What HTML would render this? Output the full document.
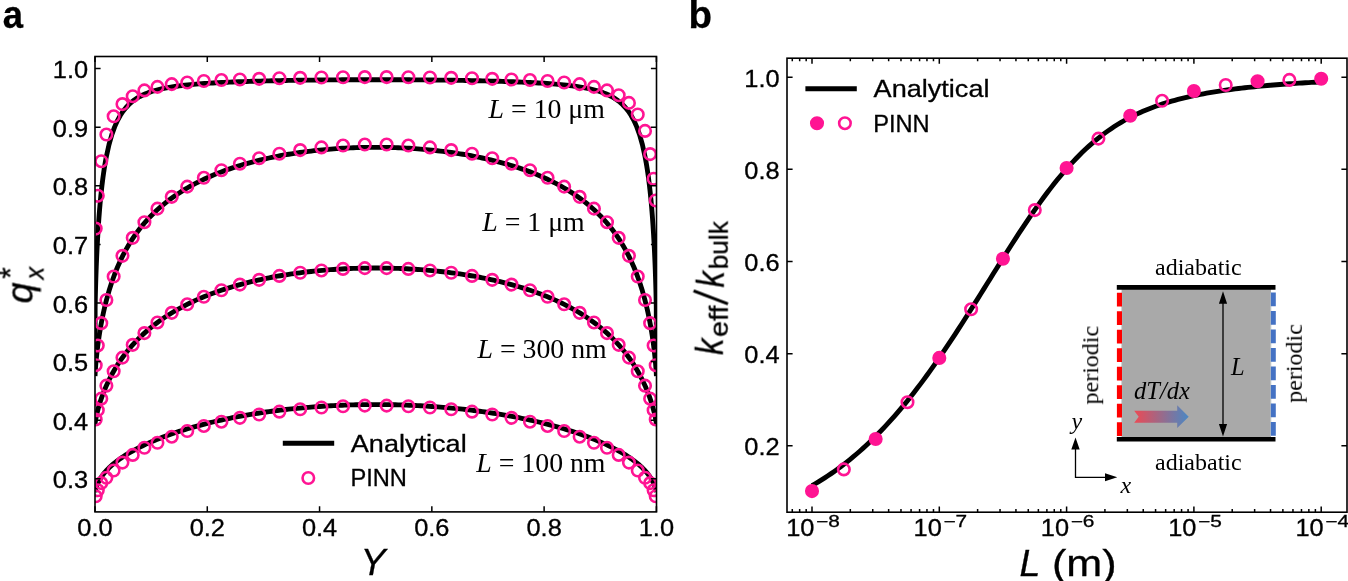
<!DOCTYPE html>
<html><head><meta charset="utf-8"><title>figure</title>
<style>html,body{margin:0;padding:0;background:#fff;}svg{display:block;font-family:"Liberation Sans",sans-serif;}text{will-change:transform;}text.s{stroke:#000;stroke-width:0.3px;}</style>
</head><body>
<svg width="1348" height="581" viewBox="0 0 1348 581">
<defs><clipPath id="ca"><rect x="95.0" y="56.5" width="561.5" height="455.4"/></clipPath>
<clipPath id="cb"><rect x="787.0" y="58.2" width="560.0" height="454.00000000000006"/></clipPath>
<linearGradient id="gr" x1="0" x2="1" y1="0" y2="0"><stop offset="0" stop-color="#ec4a55"/><stop offset="0.5" stop-color="#9a6a8a"/><stop offset="1" stop-color="#4a88c4"/></linearGradient>
</defs>
<rect width="1348" height="581" fill="#fff"/>
<g clip-path="url(#ca)" fill="none" stroke="#000" stroke-width="4.86" stroke-linejoin="round">
<polyline points="95.00,363.94 95.14,306.93 95.28,299.34 95.42,293.26 95.56,287.93 95.70,283.08 95.84,278.60 95.98,274.42 96.12,270.49 96.26,266.76 96.40,263.23 96.54,259.86 96.68,256.63 96.82,253.54 96.96,250.57 97.11,247.72 97.25,244.96 97.39,242.31 97.53,239.74 97.67,237.25 97.81,234.85 97.95,232.51 98.09,230.25 98.23,228.05 98.37,225.91 98.51,223.83 98.65,221.81 98.79,219.84 98.93,217.92 99.07,216.04 99.21,214.22 99.35,212.44 99.49,210.70 99.63,209.00 99.77,207.34 99.91,205.71 100.05,204.13 100.19,202.58 100.33,201.06 100.47,199.57 100.61,198.12 100.75,196.69 100.89,195.29 101.04,193.93 101.18,192.58 101.32,191.27 101.46,189.98 101.60,188.72 101.74,187.47 101.88,186.26 102.02,185.06 102.16,183.89 102.30,182.74 102.44,181.61 102.58,180.49 102.72,179.40 102.86,178.33 103.00,177.28 103.14,176.24 103.28,175.22 103.42,174.22 103.56,173.23 103.70,172.26 103.84,171.31 103.98,170.37 104.12,169.45 104.26,168.54 104.40,167.65 104.54,166.77 104.68,165.91 104.82,165.05 104.96,164.21 105.11,163.39 105.25,162.57 105.39,161.77 105.53,160.98 105.67,160.20 105.81,159.44 105.95,158.68 106.09,157.94 106.23,157.20 109.03,144.48 111.84,134.65 114.65,126.88 117.46,120.61 120.26,115.50 123.07,111.26 125.88,107.72 128.68,104.73 131.49,102.18 134.30,99.99 137.10,98.11 139.91,96.47 142.72,95.03 145.53,93.77 148.33,92.66 151.14,91.68 153.95,90.79 156.75,90.01 159.56,89.30 162.37,88.66 165.18,88.08 167.98,87.55 170.79,87.07 173.60,86.63 176.40,86.23 179.21,85.86 182.02,85.51 184.82,85.19 187.63,84.90 190.44,84.62 193.25,84.37 196.05,84.13 198.86,83.90 201.67,83.69 204.47,83.49 207.28,83.30 210.09,83.13 212.89,82.96 215.70,82.80 218.51,82.65 221.31,82.51 224.12,82.37 226.93,82.24 229.74,82.11 232.54,82.00 235.35,81.88 238.16,81.78 240.96,81.67 243.77,81.57 246.58,81.48 249.39,81.39 252.19,81.30 255.00,81.21 257.81,81.13 260.61,81.06 263.42,80.98 266.23,80.91 269.03,80.84 271.84,80.78 274.65,80.71 277.46,80.65 280.26,80.59 283.07,80.54 285.88,80.48 288.68,80.43 291.49,80.38 294.30,80.33 297.10,80.29 299.91,80.25 302.72,80.20 305.52,80.16 308.33,80.13 311.14,80.09 313.95,80.06 316.75,80.02 319.56,79.99 322.37,79.96 325.17,79.94 327.98,79.91 330.79,79.88 333.60,79.86 336.40,79.84 339.21,79.82 342.02,79.80 344.82,79.79 347.63,79.77 350.44,79.76 353.24,79.74 356.05,79.73 358.86,79.72 361.67,79.72 364.47,79.71 367.28,79.70 370.09,79.70 372.89,79.70 375.70,79.70 378.51,79.70 381.31,79.70 384.12,79.70 386.93,79.71 389.74,79.72 392.54,79.72 395.35,79.73 398.16,79.74 400.96,79.76 403.77,79.77 406.58,79.79 409.38,79.80 412.19,79.82 415.00,79.84 417.81,79.86 420.61,79.88 423.42,79.91 426.23,79.94 429.03,79.96 431.84,79.99 434.65,80.02 437.45,80.06 440.26,80.09 443.07,80.13 445.88,80.16 448.68,80.20 451.49,80.25 454.30,80.29 457.10,80.33 459.91,80.38 462.72,80.43 465.52,80.48 468.33,80.54 471.14,80.59 473.94,80.65 476.75,80.71 479.56,80.78 482.37,80.84 485.17,80.91 487.98,80.98 490.79,81.06 493.59,81.13 496.40,81.21 499.21,81.30 502.01,81.39 504.82,81.48 507.63,81.57 510.44,81.67 513.24,81.78 516.05,81.88 518.86,82.00 521.66,82.11 524.47,82.24 527.28,82.37 530.09,82.51 532.89,82.65 535.70,82.80 538.51,82.96 541.31,83.13 544.12,83.30 546.93,83.49 549.73,83.69 552.54,83.90 555.35,84.13 558.15,84.37 560.96,84.62 563.77,84.90 566.58,85.19 569.38,85.51 572.19,85.86 575.00,86.23 577.80,86.63 580.61,87.07 583.42,87.55 586.22,88.08 589.03,88.66 591.84,89.30 594.65,90.01 597.45,90.79 600.26,91.68 603.07,92.66 605.87,93.77 608.68,95.03 611.49,96.47 614.29,98.11 617.10,99.99 619.91,102.18 622.72,104.73 625.52,107.72 628.33,111.26 631.14,115.50 633.94,120.61 636.75,126.88 639.56,134.65 642.37,144.48 645.17,157.20 645.31,157.94 645.45,158.68 645.59,159.44 645.73,160.20 645.87,160.98 646.01,161.77 646.15,162.57 646.29,163.39 646.44,164.21 646.58,165.05 646.72,165.91 646.86,166.77 647.00,167.65 647.14,168.54 647.28,169.45 647.42,170.37 647.56,171.31 647.70,172.26 647.84,173.23 647.98,174.22 648.12,175.22 648.26,176.24 648.40,177.28 648.54,178.33 648.68,179.40 648.82,180.49 648.96,181.61 649.10,182.74 649.24,183.89 649.38,185.06 649.52,186.26 649.66,187.47 649.80,188.72 649.94,189.98 650.08,191.27 650.22,192.58 650.36,193.93 650.51,195.29 650.65,196.69 650.79,198.12 650.93,199.57 651.07,201.06 651.21,202.58 651.35,204.13 651.49,205.71 651.63,207.34 651.77,209.00 651.91,210.70 652.05,212.44 652.19,214.22 652.33,216.04 652.47,217.92 652.61,219.84 652.75,221.81 652.89,223.83 653.03,225.91 653.17,228.05 653.31,230.25 653.45,232.51 653.59,234.85 653.73,237.25 653.87,239.74 654.01,242.31 654.15,244.96 654.29,247.72 654.44,250.57 654.58,253.54 654.72,256.63 654.86,259.86 655.00,263.23 655.14,266.76 655.28,270.49 655.42,274.42 655.56,278.60 655.70,283.08 655.84,287.93 655.98,293.26 656.12,299.34 656.26,306.93 656.40,363.94"/>
<polyline points="95.00,376.04 95.14,373.12 95.28,370.86 95.42,368.84 95.56,366.97 95.70,365.22 95.84,363.56 95.98,361.98 96.12,360.46 96.26,359.00 96.40,357.59 96.54,356.23 96.68,354.90 96.82,353.61 96.96,352.36 97.11,351.14 97.25,349.94 97.39,348.77 97.53,347.63 97.67,346.52 97.81,345.42 97.95,344.35 98.09,343.30 98.23,342.26 98.37,341.25 98.51,340.25 98.65,339.27 98.79,338.30 98.93,337.35 99.07,336.42 99.21,335.50 99.35,334.59 99.49,333.70 99.63,332.82 99.77,331.95 99.91,331.09 100.05,330.25 100.19,329.41 100.33,328.59 100.47,327.77 100.61,326.97 100.75,326.18 100.89,325.40 101.04,324.62 101.18,323.86 101.32,323.10 101.46,322.35 101.60,321.61 101.74,320.88 101.88,320.16 102.02,319.44 102.16,318.74 102.30,318.04 102.44,317.34 102.58,316.66 102.72,315.98 102.86,315.31 103.00,314.64 103.14,313.98 103.28,313.33 103.42,312.68 103.56,312.04 103.70,311.41 103.84,310.78 103.98,310.16 104.12,309.54 104.26,308.93 104.40,308.32 104.54,307.72 104.68,307.12 104.82,306.53 104.96,305.95 105.11,305.37 105.25,304.79 105.39,304.22 105.53,303.65 105.67,303.09 105.81,302.53 105.95,301.98 106.09,301.43 106.23,300.89 109.03,290.82 111.84,282.03 114.65,274.24 117.46,267.25 120.26,260.92 123.07,255.15 125.88,249.85 128.68,244.96 131.49,240.42 134.30,236.20 137.10,232.25 139.91,228.54 142.72,225.06 145.53,221.77 148.33,218.66 151.14,215.72 153.95,212.93 156.75,210.27 159.56,207.75 162.37,205.33 165.18,203.03 167.98,200.83 170.79,198.72 173.60,196.70 176.40,194.77 179.21,192.91 182.02,191.12 184.82,189.40 187.63,187.74 190.44,186.15 193.25,184.62 196.05,183.13 198.86,181.71 201.67,180.33 204.47,179.00 207.28,177.71 210.09,176.47 212.89,175.27 215.70,174.11 218.51,172.99 221.31,171.90 224.12,170.85 226.93,169.83 229.74,168.85 232.54,167.90 235.35,166.98 238.16,166.09 240.96,165.22 243.77,164.39 246.58,163.58 249.39,162.80 252.19,162.04 255.00,161.31 257.81,160.60 260.61,159.92 263.42,159.26 266.23,158.62 269.03,158.00 271.84,157.40 274.65,156.83 277.46,156.27 280.26,155.73 283.07,155.22 285.88,154.72 288.68,154.24 291.49,153.78 294.30,153.34 297.10,152.91 299.91,152.50 302.72,152.11 305.52,151.74 308.33,151.38 311.14,151.04 313.95,150.71 316.75,150.40 319.56,150.11 322.37,149.83 325.17,149.57 327.98,149.32 330.79,149.09 333.60,148.87 336.40,148.67 339.21,148.48 342.02,148.30 344.82,148.14 347.63,148.00 350.44,147.87 353.24,147.75 356.05,147.64 358.86,147.55 361.67,147.48 364.47,147.42 367.28,147.37 370.09,147.33 372.89,147.31 375.70,147.31 378.51,147.31 381.31,147.33 384.12,147.37 386.93,147.42 389.74,147.48 392.54,147.55 395.35,147.64 398.16,147.75 400.96,147.87 403.77,148.00 406.58,148.14 409.38,148.30 412.19,148.48 415.00,148.67 417.81,148.87 420.61,149.09 423.42,149.32 426.23,149.57 429.03,149.83 431.84,150.11 434.65,150.40 437.45,150.71 440.26,151.04 443.07,151.38 445.88,151.74 448.68,152.11 451.49,152.50 454.30,152.91 457.10,153.34 459.91,153.78 462.72,154.24 465.52,154.72 468.33,155.22 471.14,155.73 473.94,156.27 476.75,156.83 479.56,157.40 482.37,158.00 485.17,158.62 487.98,159.26 490.79,159.92 493.59,160.60 496.40,161.31 499.21,162.04 502.01,162.80 504.82,163.58 507.63,164.39 510.44,165.22 513.24,166.09 516.05,166.98 518.86,167.90 521.66,168.85 524.47,169.83 527.28,170.85 530.09,171.90 532.89,172.99 535.70,174.11 538.51,175.27 541.31,176.47 544.12,177.71 546.93,179.00 549.73,180.33 552.54,181.71 555.35,183.13 558.15,184.62 560.96,186.15 563.77,187.74 566.58,189.40 569.38,191.12 572.19,192.91 575.00,194.77 577.80,196.70 580.61,198.72 583.42,200.83 586.22,203.03 589.03,205.33 591.84,207.75 594.65,210.27 597.45,212.93 600.26,215.72 603.07,218.66 605.87,221.77 608.68,225.06 611.49,228.54 614.29,232.25 617.10,236.20 619.91,240.42 622.72,244.96 625.52,249.85 628.33,255.15 631.14,260.92 633.94,267.25 636.75,274.24 639.56,282.03 642.37,290.82 645.17,300.89 645.31,301.43 645.45,301.98 645.59,302.53 645.73,303.09 645.87,303.65 646.01,304.22 646.15,304.79 646.29,305.37 646.44,305.95 646.58,306.53 646.72,307.12 646.86,307.72 647.00,308.32 647.14,308.93 647.28,309.54 647.42,310.16 647.56,310.78 647.70,311.41 647.84,312.04 647.98,312.68 648.12,313.33 648.26,313.98 648.40,314.64 648.54,315.31 648.68,315.98 648.82,316.66 648.96,317.34 649.10,318.04 649.24,318.74 649.38,319.44 649.52,320.16 649.66,320.88 649.80,321.61 649.94,322.35 650.08,323.10 650.22,323.86 650.36,324.62 650.51,325.40 650.65,326.18 650.79,326.97 650.93,327.77 651.07,328.59 651.21,329.41 651.35,330.25 651.49,331.09 651.63,331.95 651.77,332.82 651.91,333.70 652.05,334.59 652.19,335.50 652.33,336.42 652.47,337.35 652.61,338.30 652.75,339.27 652.89,340.25 653.03,341.25 653.17,342.26 653.31,343.30 653.45,344.35 653.59,345.42 653.73,346.52 653.87,347.63 654.01,348.77 654.15,349.94 654.29,351.14 654.44,352.36 654.58,353.61 654.72,354.90 654.86,356.23 655.00,357.59 655.14,359.00 655.28,360.46 655.42,361.98 655.56,363.56 655.70,365.22 655.84,366.97 655.98,368.84 656.12,370.86 656.26,373.12 656.40,376.04"/>
<polyline points="95.00,424.14 95.14,422.90 95.28,421.94 95.42,421.06 95.56,420.24 95.70,419.45 95.84,418.70 95.98,417.98 96.12,417.28 96.26,416.60 96.40,415.94 96.54,415.30 96.68,414.67 96.82,414.05 96.96,413.45 97.11,412.86 97.25,412.28 97.39,411.72 97.53,411.16 97.67,410.61 97.81,410.07 97.95,409.53 98.09,409.01 98.23,408.49 98.37,407.98 98.51,407.48 98.65,406.98 98.79,406.49 98.93,406.01 99.07,405.53 99.21,405.05 99.35,404.59 99.49,404.12 99.63,403.66 99.77,403.21 99.91,402.76 100.05,402.32 100.19,401.88 100.33,401.44 100.47,401.01 100.61,400.59 100.75,400.16 100.89,399.75 101.04,399.33 101.18,398.92 101.32,398.51 101.46,398.11 101.60,397.70 101.74,397.31 101.88,396.91 102.02,396.52 102.16,396.13 102.30,395.75 102.44,395.37 102.58,394.99 102.72,394.61 102.86,394.24 103.00,393.87 103.14,393.50 103.28,393.13 103.42,392.77 103.56,392.41 103.70,392.05 103.84,391.70 103.98,391.34 104.12,390.99 104.26,390.64 104.40,390.30 104.54,389.95 104.68,389.61 104.82,389.27 104.96,388.94 105.11,388.60 105.25,388.27 105.39,387.94 105.53,387.61 105.67,387.28 105.81,386.96 105.95,386.63 106.09,386.31 106.23,385.99 109.03,379.97 111.84,374.53 114.65,369.55 117.46,364.96 120.26,360.71 123.07,356.74 125.88,353.02 128.68,349.52 131.49,346.22 134.30,343.10 137.10,340.14 139.91,337.33 142.72,334.65 145.53,332.10 148.33,329.66 151.14,327.33 153.95,325.09 156.75,322.95 159.56,320.90 162.37,318.92 165.18,317.03 167.98,315.20 170.79,313.44 173.60,311.75 176.40,310.11 179.21,308.54 182.02,307.02 184.82,305.55 187.63,304.13 190.44,302.75 193.25,301.43 196.05,300.14 198.86,298.90 201.67,297.70 204.47,296.53 207.28,295.41 210.09,294.31 212.89,293.26 215.70,292.23 218.51,291.24 221.31,290.28 224.12,289.34 226.93,288.44 229.74,287.56 232.54,286.71 235.35,285.89 238.16,285.09 240.96,284.32 243.77,283.57 246.58,282.84 249.39,282.14 252.19,281.45 255.00,280.79 257.81,280.15 260.61,279.54 263.42,278.94 266.23,278.36 269.03,277.80 271.84,277.26 274.65,276.73 277.46,276.23 280.26,275.74 283.07,275.27 285.88,274.82 288.68,274.38 291.49,273.96 294.30,273.56 297.10,273.17 299.91,272.80 302.72,272.44 305.52,272.10 308.33,271.77 311.14,271.46 313.95,271.16 316.75,270.88 319.56,270.61 322.37,270.35 325.17,270.11 327.98,269.88 330.79,269.67 333.60,269.47 336.40,269.28 339.21,269.11 342.02,268.95 344.82,268.80 347.63,268.67 350.44,268.55 353.24,268.44 356.05,268.34 358.86,268.26 361.67,268.19 364.47,268.14 367.28,268.09 370.09,268.06 372.89,268.04 375.70,268.03 378.51,268.04 381.31,268.06 384.12,268.09 386.93,268.14 389.74,268.19 392.54,268.26 395.35,268.34 398.16,268.44 400.96,268.55 403.77,268.67 406.58,268.80 409.38,268.95 412.19,269.11 415.00,269.28 417.81,269.47 420.61,269.67 423.42,269.88 426.23,270.11 429.03,270.35 431.84,270.61 434.65,270.88 437.45,271.16 440.26,271.46 443.07,271.77 445.88,272.10 448.68,272.44 451.49,272.80 454.30,273.17 457.10,273.56 459.91,273.96 462.72,274.38 465.52,274.82 468.33,275.27 471.14,275.74 473.94,276.23 476.75,276.73 479.56,277.26 482.37,277.80 485.17,278.36 487.98,278.94 490.79,279.54 493.59,280.15 496.40,280.79 499.21,281.45 502.01,282.14 504.82,282.84 507.63,283.57 510.44,284.32 513.24,285.09 516.05,285.89 518.86,286.71 521.66,287.56 524.47,288.44 527.28,289.34 530.09,290.28 532.89,291.24 535.70,292.23 538.51,293.26 541.31,294.31 544.12,295.41 546.93,296.53 549.73,297.70 552.54,298.90 555.35,300.14 558.15,301.43 560.96,302.75 563.77,304.13 566.58,305.55 569.38,307.02 572.19,308.54 575.00,310.11 577.80,311.75 580.61,313.44 583.42,315.20 586.22,317.03 589.03,318.92 591.84,320.90 594.65,322.95 597.45,325.09 600.26,327.33 603.07,329.66 605.87,332.10 608.68,334.65 611.49,337.33 614.29,340.14 617.10,343.10 619.91,346.22 622.72,349.52 625.52,353.02 628.33,356.74 631.14,360.71 633.94,364.96 636.75,369.55 639.56,374.53 642.37,379.97 645.17,385.99 645.31,386.31 645.45,386.63 645.59,386.96 645.73,387.28 645.87,387.61 646.01,387.94 646.15,388.27 646.29,388.60 646.44,388.94 646.58,389.27 646.72,389.61 646.86,389.95 647.00,390.30 647.14,390.64 647.28,390.99 647.42,391.34 647.56,391.70 647.70,392.05 647.84,392.41 647.98,392.77 648.12,393.13 648.26,393.50 648.40,393.87 648.54,394.24 648.68,394.61 648.82,394.99 648.96,395.37 649.10,395.75 649.24,396.13 649.38,396.52 649.52,396.91 649.66,397.31 649.80,397.70 649.94,398.11 650.08,398.51 650.22,398.92 650.36,399.33 650.51,399.75 650.65,400.16 650.79,400.59 650.93,401.01 651.07,401.44 651.21,401.88 651.35,402.32 651.49,402.76 651.63,403.21 651.77,403.66 651.91,404.12 652.05,404.59 652.19,405.05 652.33,405.53 652.47,406.01 652.61,406.49 652.75,406.98 652.89,407.48 653.03,407.98 653.17,408.49 653.31,409.01 653.45,409.53 653.59,410.07 653.73,410.61 653.87,411.16 654.01,411.72 654.15,412.28 654.29,412.86 654.44,413.45 654.58,414.05 654.72,414.67 654.86,415.30 655.00,415.94 655.14,416.60 655.28,417.28 655.42,417.98 655.56,418.70 655.70,419.45 655.84,420.24 655.98,421.06 656.12,421.94 656.26,422.90 656.40,424.14"/>
<polyline points="95.00,492.13 95.14,491.22 95.28,490.57 95.42,489.98 95.56,489.43 95.70,488.93 95.84,488.45 95.98,487.99 96.12,487.56 96.26,487.14 96.40,486.73 96.54,486.35 96.68,485.97 96.82,485.60 96.96,485.25 97.11,484.90 97.25,484.56 97.39,484.23 97.53,483.91 97.67,483.60 97.81,483.29 97.95,482.99 98.09,482.69 98.23,482.40 98.37,482.12 98.51,481.84 98.65,481.56 98.79,481.29 98.93,481.03 99.07,480.76 99.21,480.51 99.35,480.25 99.49,480.00 99.63,479.76 99.77,479.51 99.91,479.28 100.05,479.04 100.19,478.81 100.33,478.58 100.47,478.35 100.61,478.12 100.75,477.90 100.89,477.68 101.04,477.47 101.18,477.25 101.32,477.04 101.46,476.83 101.60,476.62 101.74,476.42 101.88,476.22 102.02,476.02 102.16,475.82 102.30,475.62 102.44,475.43 102.58,475.23 102.72,475.04 102.86,474.85 103.00,474.66 103.14,474.48 103.28,474.29 103.42,474.11 103.56,473.93 103.70,473.75 103.84,473.57 103.98,473.40 104.12,473.22 104.26,473.05 104.40,472.88 104.54,472.71 104.68,472.54 104.82,472.37 104.96,472.20 105.11,472.04 105.25,471.87 105.39,471.71 105.53,471.55 105.67,471.39 105.81,471.23 105.95,471.07 106.09,470.91 106.23,470.76 109.03,467.83 111.84,465.22 114.65,462.85 117.46,460.66 120.26,458.63 123.07,456.72 125.88,454.92 128.68,453.21 131.49,451.58 134.30,450.03 137.10,448.54 139.91,447.11 142.72,445.74 145.53,444.41 148.33,443.13 151.14,441.89 153.95,440.70 156.75,439.54 159.56,438.41 162.37,437.32 165.18,436.26 167.98,435.23 170.79,434.23 173.60,433.25 176.40,432.30 179.21,431.38 182.02,430.48 184.82,429.61 187.63,428.76 190.44,427.93 193.25,427.12 196.05,426.33 198.86,425.56 201.67,424.81 204.47,424.08 207.28,423.37 210.09,422.68 212.89,422.00 215.70,421.34 218.51,420.70 221.31,420.07 224.12,419.46 226.93,418.87 229.74,418.29 232.54,417.72 235.35,417.17 238.16,416.63 240.96,416.11 243.77,415.61 246.58,415.11 249.39,414.63 252.19,414.16 255.00,413.71 257.81,413.27 260.61,412.84 263.42,412.42 266.23,412.01 269.03,411.62 271.84,411.24 274.65,410.87 277.46,410.51 280.26,410.17 283.07,409.83 285.88,409.51 288.68,409.20 291.49,408.90 294.30,408.60 297.10,408.32 299.91,408.06 302.72,407.80 305.52,407.55 308.33,407.31 311.14,407.08 313.95,406.87 316.75,406.66 319.56,406.46 322.37,406.27 325.17,406.10 327.98,405.93 330.79,405.77 333.60,405.63 336.40,405.49 339.21,405.36 342.02,405.24 344.82,405.13 347.63,405.03 350.44,404.94 353.24,404.86 356.05,404.79 358.86,404.73 361.67,404.68 364.47,404.64 367.28,404.60 370.09,404.58 372.89,404.57 375.70,404.56 378.51,404.57 381.31,404.58 384.12,404.60 386.93,404.64 389.74,404.68 392.54,404.73 395.35,404.79 398.16,404.86 400.96,404.94 403.77,405.03 406.58,405.13 409.38,405.24 412.19,405.36 415.00,405.49 417.81,405.63 420.61,405.77 423.42,405.93 426.23,406.10 429.03,406.27 431.84,406.46 434.65,406.66 437.45,406.87 440.26,407.08 443.07,407.31 445.88,407.55 448.68,407.80 451.49,408.06 454.30,408.32 457.10,408.60 459.91,408.90 462.72,409.20 465.52,409.51 468.33,409.83 471.14,410.17 473.94,410.51 476.75,410.87 479.56,411.24 482.37,411.62 485.17,412.01 487.98,412.42 490.79,412.84 493.59,413.27 496.40,413.71 499.21,414.16 502.01,414.63 504.82,415.11 507.63,415.61 510.44,416.11 513.24,416.63 516.05,417.17 518.86,417.72 521.66,418.29 524.47,418.87 527.28,419.46 530.09,420.07 532.89,420.70 535.70,421.34 538.51,422.00 541.31,422.68 544.12,423.37 546.93,424.08 549.73,424.81 552.54,425.56 555.35,426.33 558.15,427.12 560.96,427.93 563.77,428.76 566.58,429.61 569.38,430.48 572.19,431.38 575.00,432.30 577.80,433.25 580.61,434.23 583.42,435.23 586.22,436.26 589.03,437.32 591.84,438.41 594.65,439.54 597.45,440.70 600.26,441.89 603.07,443.13 605.87,444.41 608.68,445.74 611.49,447.11 614.29,448.54 617.10,450.03 619.91,451.58 622.72,453.21 625.52,454.92 628.33,456.72 631.14,458.63 633.94,460.66 636.75,462.85 639.56,465.22 642.37,467.83 645.17,470.76 645.31,470.91 645.45,471.07 645.59,471.23 645.73,471.39 645.87,471.55 646.01,471.71 646.15,471.87 646.29,472.04 646.44,472.20 646.58,472.37 646.72,472.54 646.86,472.71 647.00,472.88 647.14,473.05 647.28,473.22 647.42,473.40 647.56,473.57 647.70,473.75 647.84,473.93 647.98,474.11 648.12,474.29 648.26,474.48 648.40,474.66 648.54,474.85 648.68,475.04 648.82,475.23 648.96,475.43 649.10,475.62 649.24,475.82 649.38,476.02 649.52,476.22 649.66,476.42 649.80,476.62 649.94,476.83 650.08,477.04 650.22,477.25 650.36,477.47 650.51,477.68 650.65,477.90 650.79,478.12 650.93,478.35 651.07,478.58 651.21,478.81 651.35,479.04 651.49,479.28 651.63,479.51 651.77,479.76 651.91,480.00 652.05,480.25 652.19,480.51 652.33,480.76 652.47,481.03 652.61,481.29 652.75,481.56 652.89,481.84 653.03,482.12 653.17,482.40 653.31,482.69 653.45,482.99 653.59,483.29 653.73,483.60 653.87,483.91 654.01,484.23 654.15,484.56 654.29,484.90 654.44,485.25 654.58,485.60 654.72,485.97 654.86,486.35 655.00,486.73 655.14,487.14 655.28,487.56 655.42,487.99 655.56,488.45 655.70,488.93 655.84,489.43 655.98,489.98 656.12,490.57 656.26,491.22 656.40,492.13"/>
</g>
<g clip-path="url(#ca)" fill="none" stroke="#ff1493" stroke-width="2.6">
<circle cx="95.70" cy="228.58" r="5.75"/>
<circle cx="97.79" cy="195.76" r="5.75"/>
<circle cx="101.27" cy="161.19" r="5.75"/>
<circle cx="106.38" cy="134.53" r="5.75"/>
<circle cx="113.65" cy="116.30" r="5.75"/>
<circle cx="122.45" cy="104.11" r="5.75"/>
<circle cx="132.72" cy="96.20" r="5.75"/>
<circle cx="144.41" cy="90.40" r="5.75"/>
<circle cx="157.44" cy="86.88" r="5.75"/>
<circle cx="171.75" cy="84.13" r="5.75"/>
<circle cx="187.24" cy="82.49" r="5.75"/>
<circle cx="203.83" cy="81.02" r="5.75"/>
<circle cx="221.42" cy="80.03" r="5.75"/>
<circle cx="239.90" cy="79.50" r="5.75"/>
<circle cx="259.17" cy="78.85" r="5.75"/>
<circle cx="279.38" cy="78.27" r="5.75"/>
<circle cx="300.19" cy="77.86" r="5.75"/>
<circle cx="321.45" cy="77.51" r="5.75"/>
<circle cx="343.02" cy="77.27" r="5.75"/>
<circle cx="364.79" cy="77.10" r="5.75"/>
<circle cx="386.61" cy="77.10" r="5.75"/>
<circle cx="408.38" cy="77.27" r="5.75"/>
<circle cx="429.95" cy="77.51" r="5.75"/>
<circle cx="451.21" cy="77.86" r="5.75"/>
<circle cx="472.02" cy="78.27" r="5.75"/>
<circle cx="492.23" cy="78.85" r="5.75"/>
<circle cx="511.50" cy="79.50" r="5.75"/>
<circle cx="529.98" cy="80.03" r="5.75"/>
<circle cx="547.57" cy="81.02" r="5.75"/>
<circle cx="564.16" cy="82.49" r="5.75"/>
<circle cx="579.65" cy="84.13" r="5.75"/>
<circle cx="593.96" cy="86.88" r="5.75"/>
<circle cx="606.99" cy="90.40" r="5.75"/>
<circle cx="618.68" cy="95.20" r="5.75"/>
<circle cx="628.95" cy="102.88" r="5.75"/>
<circle cx="637.75" cy="114.48" r="5.75"/>
<circle cx="645.02" cy="130.89" r="5.75"/>
<circle cx="650.13" cy="154.10" r="5.75"/>
<circle cx="653.61" cy="178.77" r="5.75"/>
<circle cx="655.70" cy="200.45" r="5.75"/>
<circle cx="95.70" cy="365.21" r="5.75"/>
<circle cx="97.79" cy="345.43" r="5.75"/>
<circle cx="101.27" cy="323.17" r="5.75"/>
<circle cx="106.38" cy="300.02" r="5.75"/>
<circle cx="113.65" cy="276.57" r="5.75"/>
<circle cx="122.45" cy="255.86" r="5.75"/>
<circle cx="132.72" cy="237.86" r="5.75"/>
<circle cx="144.41" cy="222.21" r="5.75"/>
<circle cx="157.44" cy="208.63" r="5.75"/>
<circle cx="171.75" cy="196.85" r="5.75"/>
<circle cx="187.24" cy="186.63" r="5.75"/>
<circle cx="203.83" cy="177.79" r="5.75"/>
<circle cx="221.42" cy="170.19" r="5.75"/>
<circle cx="239.90" cy="163.71" r="5.75"/>
<circle cx="259.17" cy="158.26" r="5.75"/>
<circle cx="279.38" cy="153.72" r="5.75"/>
<circle cx="300.19" cy="150.11" r="5.75"/>
<circle cx="321.45" cy="147.40" r="5.75"/>
<circle cx="343.02" cy="145.56" r="5.75"/>
<circle cx="364.79" cy="144.56" r="5.75"/>
<circle cx="386.61" cy="144.56" r="5.75"/>
<circle cx="408.38" cy="145.56" r="5.75"/>
<circle cx="429.95" cy="147.40" r="5.75"/>
<circle cx="451.21" cy="150.11" r="5.75"/>
<circle cx="472.02" cy="153.72" r="5.75"/>
<circle cx="492.23" cy="158.26" r="5.75"/>
<circle cx="511.50" cy="163.71" r="5.75"/>
<circle cx="529.98" cy="170.19" r="5.75"/>
<circle cx="547.57" cy="177.79" r="5.75"/>
<circle cx="564.16" cy="186.63" r="5.75"/>
<circle cx="579.65" cy="196.85" r="5.75"/>
<circle cx="593.96" cy="208.63" r="5.75"/>
<circle cx="606.99" cy="222.21" r="5.75"/>
<circle cx="618.68" cy="237.86" r="5.75"/>
<circle cx="628.95" cy="255.86" r="5.75"/>
<circle cx="637.75" cy="276.57" r="5.75"/>
<circle cx="645.02" cy="300.02" r="5.75"/>
<circle cx="650.13" cy="323.17" r="5.75"/>
<circle cx="653.61" cy="345.43" r="5.75"/>
<circle cx="655.70" cy="365.21" r="5.75"/>
<circle cx="95.70" cy="419.47" r="5.75"/>
<circle cx="97.79" cy="410.13" r="5.75"/>
<circle cx="101.27" cy="398.66" r="5.75"/>
<circle cx="106.38" cy="385.66" r="5.75"/>
<circle cx="113.65" cy="371.32" r="5.75"/>
<circle cx="122.45" cy="357.62" r="5.75"/>
<circle cx="132.72" cy="344.85" r="5.75"/>
<circle cx="144.41" cy="333.11" r="5.75"/>
<circle cx="157.44" cy="322.45" r="5.75"/>
<circle cx="171.75" cy="312.86" r="5.75"/>
<circle cx="187.24" cy="304.32" r="5.75"/>
<circle cx="203.83" cy="296.80" r="5.75"/>
<circle cx="221.42" cy="290.24" r="5.75"/>
<circle cx="239.90" cy="284.61" r="5.75"/>
<circle cx="259.17" cy="279.85" r="5.75"/>
<circle cx="279.38" cy="275.89" r="5.75"/>
<circle cx="300.19" cy="272.76" r="5.75"/>
<circle cx="321.45" cy="270.44" r="5.75"/>
<circle cx="343.02" cy="268.90" r="5.75"/>
<circle cx="364.79" cy="268.13" r="5.75"/>
<circle cx="386.61" cy="268.13" r="5.75"/>
<circle cx="408.38" cy="268.90" r="5.75"/>
<circle cx="429.95" cy="270.44" r="5.75"/>
<circle cx="451.21" cy="272.76" r="5.75"/>
<circle cx="472.02" cy="275.89" r="5.75"/>
<circle cx="492.23" cy="279.85" r="5.75"/>
<circle cx="511.50" cy="284.61" r="5.75"/>
<circle cx="529.98" cy="290.24" r="5.75"/>
<circle cx="547.57" cy="296.80" r="5.75"/>
<circle cx="564.16" cy="304.32" r="5.75"/>
<circle cx="579.65" cy="312.86" r="5.75"/>
<circle cx="593.96" cy="322.45" r="5.75"/>
<circle cx="606.99" cy="333.11" r="5.75"/>
<circle cx="618.68" cy="344.85" r="5.75"/>
<circle cx="628.95" cy="357.62" r="5.75"/>
<circle cx="637.75" cy="371.32" r="5.75"/>
<circle cx="645.02" cy="385.66" r="5.75"/>
<circle cx="650.13" cy="398.66" r="5.75"/>
<circle cx="653.61" cy="410.13" r="5.75"/>
<circle cx="655.70" cy="419.47" r="5.75"/>
<circle cx="95.70" cy="496.24" r="5.75"/>
<circle cx="97.79" cy="490.27" r="5.75"/>
<circle cx="101.27" cy="483.10" r="5.75"/>
<circle cx="106.38" cy="477.73" r="5.75"/>
<circle cx="113.65" cy="470.53" r="5.75"/>
<circle cx="122.45" cy="462.58" r="5.75"/>
<circle cx="132.72" cy="454.89" r="5.75"/>
<circle cx="144.41" cy="447.77" r="5.75"/>
<circle cx="157.44" cy="442.79" r="5.75"/>
<circle cx="171.75" cy="436.72" r="5.75"/>
<circle cx="187.24" cy="431.05" r="5.75"/>
<circle cx="203.83" cy="425.96" r="5.75"/>
<circle cx="221.42" cy="421.69" r="5.75"/>
<circle cx="239.90" cy="417.86" r="5.75"/>
<circle cx="259.17" cy="414.52" r="5.75"/>
<circle cx="279.38" cy="411.65" r="5.75"/>
<circle cx="300.19" cy="409.31" r="5.75"/>
<circle cx="321.45" cy="407.52" r="5.75"/>
<circle cx="343.02" cy="406.29" r="5.75"/>
<circle cx="364.79" cy="405.62" r="5.75"/>
<circle cx="386.61" cy="405.62" r="5.75"/>
<circle cx="408.38" cy="406.29" r="5.75"/>
<circle cx="429.95" cy="407.52" r="5.75"/>
<circle cx="451.21" cy="409.31" r="5.75"/>
<circle cx="472.02" cy="411.65" r="5.75"/>
<circle cx="492.23" cy="414.52" r="5.75"/>
<circle cx="511.50" cy="417.86" r="5.75"/>
<circle cx="529.98" cy="421.69" r="5.75"/>
<circle cx="547.57" cy="425.96" r="5.75"/>
<circle cx="564.16" cy="431.05" r="5.75"/>
<circle cx="579.65" cy="436.72" r="5.75"/>
<circle cx="593.96" cy="442.79" r="5.75"/>
<circle cx="606.99" cy="447.77" r="5.75"/>
<circle cx="618.68" cy="454.89" r="5.75"/>
<circle cx="628.95" cy="462.58" r="5.75"/>
<circle cx="637.75" cy="470.53" r="5.75"/>
<circle cx="645.02" cy="477.73" r="5.75"/>
<circle cx="650.13" cy="483.10" r="5.75"/>
<circle cx="653.61" cy="490.27" r="5.75"/>
<circle cx="655.70" cy="496.24" r="5.75"/>
</g>
<rect x="95.0" y="56.5" width="561.5" height="455.4" fill="none" stroke="#000" stroke-width="1.6"/>
<g stroke="#000" stroke-width="1.5" fill="none">
<path d="M95.00 511.90v-5.60M95.00 56.50v5.60"/>
<path d="M207.28 511.90v-5.60M207.28 56.50v5.60"/>
<path d="M319.56 511.90v-5.60M319.56 56.50v5.60"/>
<path d="M431.84 511.90v-5.60M431.84 56.50v5.60"/>
<path d="M544.12 511.90v-5.60M544.12 56.50v5.60"/>
<path d="M656.40 511.90v-5.60M656.40 56.50v5.60"/>
<path d="M95.00 478.80h5.60M656.50 478.80h-5.60"/>
<path d="M95.00 420.20h5.60M656.50 420.20h-5.60"/>
<path d="M95.00 361.60h5.60M656.50 361.60h-5.60"/>
<path d="M95.00 303.00h5.60M656.50 303.00h-5.60"/>
<path d="M95.00 244.40h5.60M656.50 244.40h-5.60"/>
<path d="M95.00 185.80h5.60M656.50 185.80h-5.60"/>
<path d="M95.00 127.20h5.60M656.50 127.20h-5.60"/>
<path d="M95.00 68.60h5.60M656.50 68.60h-5.60"/>
</g>
<text x="95" y="536" font-size="23.2" text-anchor="middle" textLength="35.31" lengthAdjust="spacingAndGlyphs" class="s">0.0</text>
<text x="207.28" y="536" font-size="23.2" text-anchor="middle" textLength="35.31" lengthAdjust="spacingAndGlyphs" class="s">0.2</text>
<text x="319.56" y="536" font-size="23.2" text-anchor="middle" textLength="35.31" lengthAdjust="spacingAndGlyphs" class="s">0.4</text>
<text x="431.84" y="536" font-size="23.2" text-anchor="middle" textLength="35.31" lengthAdjust="spacingAndGlyphs" class="s">0.6</text>
<text x="544.12" y="536" font-size="23.2" text-anchor="middle" textLength="35.31" lengthAdjust="spacingAndGlyphs" class="s">0.8</text>
<text x="656.4" y="536" font-size="23.2" text-anchor="middle" textLength="35.31" lengthAdjust="spacingAndGlyphs" class="s">1.0</text>
<text x="88.2" y="488.4" font-size="23.2" text-anchor="end" textLength="35.31" lengthAdjust="spacingAndGlyphs" class="s">0.3</text>
<text x="88.2" y="429.8" font-size="23.2" text-anchor="end" textLength="35.31" lengthAdjust="spacingAndGlyphs" class="s">0.4</text>
<text x="88.2" y="371.2" font-size="23.2" text-anchor="end" textLength="35.31" lengthAdjust="spacingAndGlyphs" class="s">0.5</text>
<text x="88.2" y="312.6" font-size="23.2" text-anchor="end" textLength="35.31" lengthAdjust="spacingAndGlyphs" class="s">0.6</text>
<text x="88.2" y="254" font-size="23.2" text-anchor="end" textLength="35.31" lengthAdjust="spacingAndGlyphs" class="s">0.7</text>
<text x="88.2" y="195.4" font-size="23.2" text-anchor="end" textLength="35.31" lengthAdjust="spacingAndGlyphs" class="s">0.8</text>
<text x="88.2" y="136.8" font-size="23.2" text-anchor="end" textLength="35.31" lengthAdjust="spacingAndGlyphs" class="s">0.9</text>
<text x="88.2" y="78.2" font-size="23.2" text-anchor="end" textLength="35.31" lengthAdjust="spacingAndGlyphs" class="s">1.0</text>
<polyline clip-path="url(#cb)" points="812.00,485.58 815.18,483.74 818.37,481.84 821.55,479.88 824.73,477.85 827.91,475.77 831.10,473.62 834.28,471.41 837.46,469.13 840.64,466.79 843.83,464.37 847.01,461.89 850.19,459.34 853.37,456.72 856.55,454.02 859.74,451.25 862.92,448.41 866.10,445.49 869.28,442.50 872.47,439.44 875.65,436.30 878.83,433.08 882.01,429.78 885.20,426.41 888.38,422.97 891.56,419.44 894.75,415.84 897.93,412.17 901.11,408.42 904.29,404.59 907.48,400.69 910.66,396.71 913.84,392.66 917.02,388.54 920.20,384.35 923.39,380.09 926.57,375.76 929.75,371.37 932.94,366.91 936.12,362.38 939.30,357.80 942.48,353.16 945.66,348.46 948.85,343.71 952.03,338.91 955.21,334.06 958.39,329.17 961.58,324.23 964.76,319.26 967.94,314.26 971.12,309.23 974.31,304.17 977.49,299.09 980.67,294.00 983.86,288.89 987.04,283.78 990.22,278.67 993.40,273.55 996.59,268.45 999.77,263.36 1002.95,258.29 1006.13,253.25 1009.31,248.23 1012.50,243.25 1015.68,238.32 1018.86,233.42 1022.05,228.58 1025.23,223.80 1028.41,219.08 1031.59,214.42 1034.78,209.84 1037.96,205.33 1041.14,200.90 1044.32,196.56 1047.50,192.30 1050.69,188.14 1053.87,184.07 1057.05,180.10 1060.24,176.23 1063.42,172.46 1066.60,168.80 1069.78,165.24 1072.97,161.79 1076.15,158.45 1079.33,155.21 1082.51,152.09 1085.70,149.07 1088.88,146.16 1092.06,143.35 1095.24,140.65 1098.42,138.06 1101.61,135.56 1104.79,133.17 1107.97,130.87 1111.15,128.67 1114.34,126.56 1117.52,124.54 1120.70,122.61 1123.88,120.77 1127.07,119.00 1130.25,117.32 1133.43,115.71 1136.62,114.17 1139.80,112.70 1142.98,111.30 1146.16,109.96 1149.35,108.68 1152.53,107.46 1155.71,106.29 1158.89,105.18 1162.08,104.11 1165.26,103.10 1168.44,102.12 1171.62,101.19 1174.80,100.30 1177.99,99.45 1181.17,98.64 1184.35,97.85 1187.54,97.11 1190.72,96.39 1193.90,95.70 1197.08,95.04 1200.27,94.41 1203.45,93.80 1206.63,93.22 1209.81,92.65 1213.00,92.12 1216.18,91.60 1219.36,91.10 1222.54,90.62 1225.72,90.16 1228.91,89.72 1232.09,89.29 1235.27,88.88 1238.45,88.49 1241.64,88.11 1244.82,87.74 1248.00,87.39 1251.18,87.05 1254.37,86.72 1257.55,86.41 1260.73,86.10 1263.91,85.81 1267.10,85.52 1270.28,85.25 1273.46,84.99 1276.64,84.73 1279.83,84.48 1283.01,84.24 1286.19,84.01 1289.38,83.79 1292.56,83.57 1295.74,83.36 1298.92,83.15 1302.11,82.95 1305.29,82.76 1308.47,82.57 1311.65,82.39 1314.84,82.21 1318.02,82.04 1321.20,81.87" fill="none" stroke="#000" stroke-width="4.86" stroke-linejoin="round" stroke-linecap="butt"/>
<g clip-path="url(#cb)">
<circle cx="812.00" cy="491.09" r="5.75" fill="#ff1493" stroke="#ff1493" stroke-width="2.6"/>
<circle cx="843.83" cy="469.39" r="5.75" fill="none" stroke="#ff1493" stroke-width="2.6"/>
<circle cx="875.65" cy="438.98" r="5.75" fill="#ff1493" stroke="#ff1493" stroke-width="2.6"/>
<circle cx="907.48" cy="402.21" r="5.75" fill="none" stroke="#ff1493" stroke-width="2.6"/>
<circle cx="939.30" cy="357.89" r="5.75" fill="#ff1493" stroke="#ff1493" stroke-width="2.6"/>
<circle cx="971.12" cy="309.28" r="5.75" fill="none" stroke="#ff1493" stroke-width="2.6"/>
<circle cx="1002.95" cy="258.78" r="5.75" fill="#ff1493" stroke="#ff1493" stroke-width="2.6"/>
<circle cx="1034.78" cy="210.08" r="5.75" fill="none" stroke="#ff1493" stroke-width="2.6"/>
<circle cx="1066.60" cy="168.01" r="5.75" fill="#ff1493" stroke="#ff1493" stroke-width="2.6"/>
<circle cx="1098.42" cy="138.62" r="5.75" fill="none" stroke="#ff1493" stroke-width="2.6"/>
<circle cx="1130.25" cy="115.81" r="5.75" fill="#ff1493" stroke="#ff1493" stroke-width="2.6"/>
<circle cx="1162.08" cy="100.79" r="5.75" fill="none" stroke="#ff1493" stroke-width="2.6"/>
<circle cx="1193.90" cy="91.02" r="5.75" fill="#ff1493" stroke="#ff1493" stroke-width="2.6"/>
<circle cx="1225.72" cy="84.99" r="5.75" fill="none" stroke="#ff1493" stroke-width="2.6"/>
<circle cx="1257.55" cy="81.20" r="5.75" fill="#ff1493" stroke="#ff1493" stroke-width="2.6"/>
<circle cx="1289.38" cy="79.90" r="5.75" fill="none" stroke="#ff1493" stroke-width="2.6"/>
<circle cx="1321.20" cy="78.80" r="5.75" fill="#ff1493" stroke="#ff1493" stroke-width="2.6"/>
</g>
<rect x="787.0" y="58.2" width="560.0" height="454.00000000000006" fill="none" stroke="#000" stroke-width="1.6"/>
<g stroke="#000" stroke-width="1.5" fill="none">
<path d="M792.28 512.20v-3.10M792.28 58.20v3.10"/>
<path d="M799.66 512.20v-3.10M799.66 58.20v3.10"/>
<path d="M806.18 512.20v-3.10M806.18 58.20v3.10"/>
<path d="M812.00 512.20v-5.60M812.00 58.20v5.60"/>
<path d="M850.32 512.20v-3.10M850.32 58.20v3.10"/>
<path d="M872.74 512.20v-3.10M872.74 58.20v3.10"/>
<path d="M888.64 512.20v-3.10M888.64 58.20v3.10"/>
<path d="M900.98 512.20v-3.10M900.98 58.20v3.10"/>
<path d="M911.06 512.20v-3.10M911.06 58.20v3.10"/>
<path d="M919.58 512.20v-3.10M919.58 58.20v3.10"/>
<path d="M926.96 512.20v-3.10M926.96 58.20v3.10"/>
<path d="M933.48 512.20v-3.10M933.48 58.20v3.10"/>
<path d="M939.30 512.20v-5.60M939.30 58.20v5.60"/>
<path d="M977.62 512.20v-3.10M977.62 58.20v3.10"/>
<path d="M1000.04 512.20v-3.10M1000.04 58.20v3.10"/>
<path d="M1015.94 512.20v-3.10M1015.94 58.20v3.10"/>
<path d="M1028.28 512.20v-3.10M1028.28 58.20v3.10"/>
<path d="M1038.36 512.20v-3.10M1038.36 58.20v3.10"/>
<path d="M1046.88 512.20v-3.10M1046.88 58.20v3.10"/>
<path d="M1054.26 512.20v-3.10M1054.26 58.20v3.10"/>
<path d="M1060.78 512.20v-3.10M1060.78 58.20v3.10"/>
<path d="M1066.60 512.20v-5.60M1066.60 58.20v5.60"/>
<path d="M1104.92 512.20v-3.10M1104.92 58.20v3.10"/>
<path d="M1127.34 512.20v-3.10M1127.34 58.20v3.10"/>
<path d="M1143.24 512.20v-3.10M1143.24 58.20v3.10"/>
<path d="M1155.58 512.20v-3.10M1155.58 58.20v3.10"/>
<path d="M1165.66 512.20v-3.10M1165.66 58.20v3.10"/>
<path d="M1174.18 512.20v-3.10M1174.18 58.20v3.10"/>
<path d="M1181.56 512.20v-3.10M1181.56 58.20v3.10"/>
<path d="M1188.08 512.20v-3.10M1188.08 58.20v3.10"/>
<path d="M1193.90 512.20v-5.60M1193.90 58.20v5.60"/>
<path d="M1232.22 512.20v-3.10M1232.22 58.20v3.10"/>
<path d="M1254.64 512.20v-3.10M1254.64 58.20v3.10"/>
<path d="M1270.54 512.20v-3.10M1270.54 58.20v3.10"/>
<path d="M1282.88 512.20v-3.10M1282.88 58.20v3.10"/>
<path d="M1292.96 512.20v-3.10M1292.96 58.20v3.10"/>
<path d="M1301.48 512.20v-3.10M1301.48 58.20v3.10"/>
<path d="M1308.86 512.20v-3.10M1308.86 58.20v3.10"/>
<path d="M1315.38 512.20v-3.10M1315.38 58.20v3.10"/>
<path d="M1321.20 512.20v-5.60M1321.20 58.20v5.60"/>
<path d="M787.00 445.80h5.60M1347.00 445.80h-5.60"/>
<path d="M787.00 353.65h5.60M1347.00 353.65h-5.60"/>
<path d="M787.00 261.50h5.60M1347.00 261.50h-5.60"/>
<path d="M787.00 169.35h5.60M1347.00 169.35h-5.60"/>
<path d="M787.00 77.20h5.60M1347.00 77.20h-5.60"/>
</g>
<text x="779.6" y="455.2" font-size="23.2" text-anchor="end" textLength="35.31" lengthAdjust="spacingAndGlyphs" class="s">0.2</text>
<text x="779.6" y="363.05" font-size="23.2" text-anchor="end" textLength="35.31" lengthAdjust="spacingAndGlyphs" class="s">0.4</text>
<text x="779.6" y="270.9" font-size="23.2" text-anchor="end" textLength="35.31" lengthAdjust="spacingAndGlyphs" class="s">0.6</text>
<text x="779.6" y="178.75" font-size="23.2" text-anchor="end" textLength="35.31" lengthAdjust="spacingAndGlyphs" class="s">0.8</text>
<text x="779.6" y="86.6" font-size="23.2" text-anchor="end" textLength="35.31" lengthAdjust="spacingAndGlyphs" class="s">1.0</text>
<text x="786.25" y="536" font-size="23.2" textLength="28.25" lengthAdjust="spacingAndGlyphs" class="s">10</text>
<text x="816.1" y="527" font-size="16.2" textLength="23.76" lengthAdjust="spacingAndGlyphs" class="s">−8</text>
<text x="913.55" y="536" font-size="23.2" textLength="28.25" lengthAdjust="spacingAndGlyphs" class="s">10</text>
<text x="943.4" y="527" font-size="16.2" textLength="23.76" lengthAdjust="spacingAndGlyphs" class="s">−7</text>
<text x="1040.85" y="536" font-size="23.2" textLength="28.25" lengthAdjust="spacingAndGlyphs" class="s">10</text>
<text x="1070.7" y="527" font-size="16.2" textLength="23.76" lengthAdjust="spacingAndGlyphs" class="s">−6</text>
<text x="1168.15" y="536" font-size="23.2" textLength="28.25" lengthAdjust="spacingAndGlyphs" class="s">10</text>
<text x="1198" y="527" font-size="16.2" textLength="23.76" lengthAdjust="spacingAndGlyphs" class="s">−5</text>
<text x="1295.45" y="536" font-size="23.2" textLength="28.25" lengthAdjust="spacingAndGlyphs" class="s">10</text>
<text x="1325.3" y="527" font-size="16.2" textLength="23.76" lengthAdjust="spacingAndGlyphs" class="s">−4</text>
<text x="373" y="575" font-size="37.5" text-anchor="middle" font-style="italic" class="s">Y</text>
<text class="s" x="1019.5" y="575.5" font-size="37.5" font-style="italic">L</text>
<text class="s" x="1051.9" y="575.5" font-size="37.5" textLength="64.6" lengthAdjust="spacingAndGlyphs">(m)</text>
<g transform="translate(32.5,303.5) rotate(-90)">
<text class="s" x="-0.14" y="0.25" font-size="37.27" font-style="italic" textLength="20.98" lengthAdjust="spacingAndGlyphs">q</text>
<text class="s" x="23.90" y="10.70" font-size="26.33" font-style="italic" textLength="12.54" lengthAdjust="spacingAndGlyphs">x</text>
<text class="s" x="24.73" y="-10.54" font-size="31.34" textLength="11.52" lengthAdjust="spacingAndGlyphs">*</text>
</g>
<g transform="translate(723.7,355.5) rotate(-90)">
<text class="s" x="0.57" y="-0.70" font-size="38.76" font-style="italic" textLength="16.44" lengthAdjust="spacingAndGlyphs">k</text>
<text class="s" x="18.60" y="4.04" font-size="26.43" textLength="31.34" lengthAdjust="spacingAndGlyphs">eff</text>
<path d="M51.6 4.3L64.7 -30.1" stroke="#000" stroke-width="3.0"/>
<text class="s" x="68.08" y="-0.40" font-size="38.76" font-style="italic" textLength="16.25" lengthAdjust="spacingAndGlyphs">k</text>
<text class="s" x="86.22" y="3.95" font-size="25.17" textLength="48.04" lengthAdjust="spacingAndGlyphs">bulk</text>
</g>
<text x="2.8" y="27.6" font-size="38.5" font-weight="bold" textLength="20.3" lengthAdjust="spacingAndGlyphs" class="s">a</text>
<text x="688.6" y="27.6" font-size="38.5" font-weight="bold" class="s">b</text>
<path d="M282.8 443.2H334.2" stroke="#000" stroke-width="4.86"/>
<text x="350.8" y="451.6" font-size="24.4" textLength="115.89" lengthAdjust="spacingAndGlyphs" class="s">Analytical</text>
<text x="350.4" y="485.9" font-size="24.4" textLength="56.5" lengthAdjust="spacingAndGlyphs" class="s">PINN</text>
<path d="M805.4 88.8H856.8" stroke="#000" stroke-width="4.86"/>
<text x="873.6" y="97.1" font-size="24.4" textLength="115.89" lengthAdjust="spacingAndGlyphs" class="s">Analytical</text>
<text x="873.2" y="131.6" font-size="24.4" textLength="56.5" lengthAdjust="spacingAndGlyphs" class="s">PINN</text>
<circle cx="308.3" cy="478.0" r="5.75" fill="none" stroke="#ff1493" stroke-width="2.6"/>
<circle cx="817.0" cy="123.2" r="5.75" fill="#ff1493" stroke="#ff1493" stroke-width="2.6"/>
<circle cx="844.9" cy="123.2" r="5.75" fill="none" stroke="#ff1493" stroke-width="2.6"/>
<text x="488.6" y="118.2" font-size="27.8" font-family="Liberation Serif"><tspan font-style="italic">L</tspan></text>
<text x="511.01" y="118.2" font-size="27.8" font-family="Liberation Serif">= 10 μm</text>
<text x="482.3" y="231.1" font-size="27.8" font-family="Liberation Serif"><tspan font-style="italic">L</tspan></text>
<text x="504.71" y="231.1" font-size="27.8" font-family="Liberation Serif">= 1 μm</text>
<text x="477.5" y="358.1" font-size="27.8" font-family="Liberation Serif"><tspan font-style="italic">L</tspan></text>
<text x="499.91" y="358.1" font-size="27.8" font-family="Liberation Serif">= 300 nm</text>
<text x="476.3" y="471.7" font-size="27.8" font-family="Liberation Serif"><tspan font-style="italic">L</tspan></text>
<text x="498.71" y="471.7" font-size="27.8" font-family="Liberation Serif">= 100 nm</text>
<g>
<rect x="1121.6" y="289" width="149.4" height="148.5" fill="#a9a9a9"/>
<path d="M1121.6 292.7V436M1270.9 292.7V436" stroke="#cfd6d6" stroke-width="1"/>
<path d="M1116.8 287.4H1275.5M1116.8 439.3H1275.5" stroke="#000" stroke-width="4.6"/>
<path d="M1119.45 292.7V436" stroke="#ff0000" stroke-width="5.1" stroke-dasharray="13.7 4.8"/>
<path d="M1273.3 292.6V436" stroke="#4472c4" stroke-width="5.0" stroke-dasharray="13.7 4.8"/>
<path d="M1223 302V425" stroke="#000" stroke-width="1.3"/>
<path d="M1223 291.3L1227.1 303.8H1218.9Z M1223 436.4L1227.1 424H1218.9Z" fill="#000"/>
<path d="M1134.2 410.7L1138.7 416.7L1134.2 422.8H1177.2V428.1L1188.7 416.7L1177.2 405.2V410.7Z" fill="url(#gr)"/>
<text x="1155.0" y="274.5" font-size="24" font-family="Liberation Serif">adiabatic</text>
<text x="1155.0" y="470.1" font-size="24" font-family="Liberation Serif">adiabatic</text>
<text x="1134.0" y="398.9" font-size="24.5" font-family="Liberation Serif" font-style="italic">dT/dx</text>
<text x="1231.0" y="374.9" font-size="24.5" font-family="Liberation Serif" font-style="italic">L</text>
<text transform="translate(1098.2,404.5) rotate(-90)" font-size="24" font-family="Liberation Serif">periodic</text>
<text transform="translate(1301.8,402.8) rotate(-90)" font-size="24" font-family="Liberation Serif">periodic</text>
<path d="M1075.5 448V477.3H1106" stroke="#000" stroke-width="1.3" fill="none"/>
<path d="M1075.5 437.4L1079.7 449.5H1071.3Z M1117.3 477.3L1105 481.3V473.3Z" fill="#000"/>
<text x="1071.5" y="429" font-size="24" font-family="Liberation Serif" font-style="italic">y</text>
<text x="1120.5" y="492.5" font-size="24" font-family="Liberation Serif" font-style="italic">x</text>
</g>
</svg>
</body></html>
